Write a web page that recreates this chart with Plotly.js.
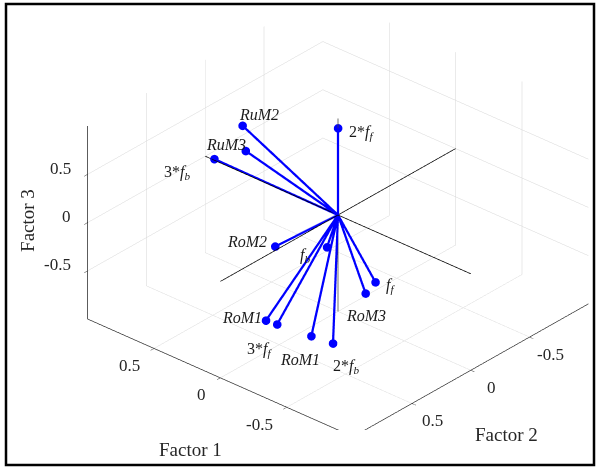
<!DOCTYPE html>
<html>
<head>
<meta charset="utf-8">
<script src="https://cdn.plot.ly/plotly-3.0.1.min.js"></script>
<style>
html,body{margin:0;padding:0;background:#fff;}
#chart{width:598px;height:468px;}
</style>
</head>
<body>
<div id="chart"></div>
<script>
// Variable labels and loading coordinates (Factor 1, Factor 2, Factor 3)
const labels = ["<i>RuM2</i>", "<i>RuM3</i>", "3*<i>f<sub>b</sub></i>", "2*<i>f<sub>f</sub></i>", "<i>RoM2</i>", "<i>f<sub>b</sub></i>", "<i>f<sub>f</sub></i>", "<i>RoM3</i>", "<i>RoM1</i>", "3*<i>f<sub>f</sub></i>", "<i>RoM1</i>", "2*<i>f<sub>b</sub></i>"];
const factor1 = [0.71, 0.58, 0.94, 0.00, 0.03, -0.05, -0.30, -0.27, 0.02, -0.02, -0.18, -0.29];
const factor2 = [0.01, 0.13, -0.01, 0.00, 0.50, 0.15, 0.02, 0.07, 0.59, 0.54, 0.43, 0.37];
const factor3 = [0.50, 0.40, 0.00, 0.90, 0.00, -0.20, -0.50, -0.60, -0.70, -0.75, -0.85, -0.90];
const tickVals = [-0.5, 0, 0.5];
const tickText = ["-0.5", "0", "0.5"];
const axisTitles = ["Factor 1", "Factor 2", "Factor 3"];
const axisLimits = [-1, 1];

// label placement offsets (pixels)
const labelShift = [[17,-11],[-20,-6],[-37,13],[24,4],[-28,-5],[-22,8],[15,3],[0,22],[-24,-3],[-17,25],[-11,23],[13,23]];

const lx = [], ly = [], lz = [];
for (let i = 0; i < factor1.length; i++) {
  lx.push(0, factor1[i], null);
  ly.push(0, factor2[i], null);
  lz.push(0, factor3[i], null);
}

const traces = [
  {type:'scatter3d', mode:'lines', x:[axisLimits[0],axisLimits[1]], y:[0,0], z:[0,0], line:{color:'#000', width:1.5}, hoverinfo:'skip', showlegend:false},
  {type:'scatter3d', mode:'lines', x:[0,0], y:[axisLimits[0],axisLimits[1]], z:[0,0], line:{color:'#000', width:1.5}, hoverinfo:'skip', showlegend:false},
  {type:'scatter3d', mode:'lines', x:[0,0], y:[0,0], z:[axisLimits[0],axisLimits[1]], line:{color:'#444', width:1.5}, hoverinfo:'skip', showlegend:false},
  {type:'scatter3d', mode:'lines', x:lx, y:ly, z:lz, connectgaps:false, line:{color:'#0000ff', width:4.5}, hoverinfo:'skip', showlegend:false},
  {type:'scatter3d', mode:'markers', x:factor1, y:factor2, z:factor3, marker:{color:'#0000ff', size:5, line:{width:0}}, hoverinfo:'skip', showlegend:false}
];

const txtFont = {family:'Liberation Serif', size:16, color:'#1a1a1a'};
const tickFont = {family:'Liberation Serif', size:17, color:'#262626'};
const titleFont = {family:'Liberation Serif', size:19, color:'#262626'};

const annotations = labels.map((t,i)=>({
  x: factor1[i], y: factor2[i], z: factor3[i], text: t, showarrow:false,
  xshift: labelShift[i][0], yshift: -labelShift[i][1], font: txtFont
}));
const hi = axisLimits[1], lo = axisLimits[0];
tickVals.forEach((v,i)=>{
  // Factor 3 ticks on left vertical edge
  annotations.push({x:hi, y:hi, z:v, text:tickText[i], showarrow:false, xanchor:'right', xshift:-14, yshift:6, font:tickFont});
  // Factor 1 ticks on front-left edge
  annotations.push({x:v, y:hi, z:lo, text:tickText[i], showarrow:false, xanchor:'right', xshift:-12, yshift:-17, font:tickFont});
  // Factor 2 ticks on front-right edge
  annotations.push({x:lo, y:v, z:lo, text:tickText[i], showarrow:false, xanchor:'center', xshift:21, yshift:-17, font:tickFont});
});
annotations.push({x:0, y:hi, z:lo, text:axisTitles[0], showarrow:false, xshift:-30, yshift:-72, font:titleFont});
annotations.push({x:lo, y:0, z:lo, text:axisTitles[1], showarrow:false, xshift:36, yshift:-64, font:titleFont});
annotations.push({x:hi, y:hi, z:0, text:axisTitles[2], showarrow:false, textangle:-90, xshift:-60, yshift:2, font:titleFont});

const axisCommon = {
  range: axisLimits, tickvals: tickVals, ticktext: tickText,
  showgrid:true, gridcolor:'#d6d6d6', gridwidth:1,
  showline:true, linecolor:'#262626', linewidth:1.5,
  showbackground:false, zeroline:false, showspikes:false,
  ticks:'outside', ticklen:5, tickcolor:'#262626',
  showticklabels:false, title:{text:''},
  autorange:false
};

const zoomK = 1.65;
const layout = {
  width:598, height:468,
  margin:{l:0, r:0, t:0, b:0},
  paper_bgcolor:'#ffffff',
  showlegend:false,
  scene:{
    domain:{x:[0.13,1.0], y:[0.0812,1.0]},
    xaxis:Object.assign({}, axisCommon),
    yaxis:Object.assign({}, axisCommon),
    zaxis:Object.assign({}, axisCommon),
    aspectmode:'manual',
    aspectratio:{x:1*zoomK, y:1*zoomK, z:0.628*zoomK},
    camera:{
      projection:{type:'orthographic'},
      up:{x:0, y:0, z:1},
      center:{x:0, y:0, z:0},
      eye:{x:-0.574*2, y:0.648*2, z:0.5*2}
    },
    annotations: annotations
  },
  shapes:[
    {type:'rect', xref:'paper', yref:'paper', x0:6/598, x1:594/598, y0:1-465/468, y1:1-4/468, line:{color:'#000', width:2.5}, fillcolor:'rgba(0,0,0,0)'}
  ]
};

Plotly.newPlot('chart', traces, layout, {displayModeBar:false});
</script>
</body>
</html>
